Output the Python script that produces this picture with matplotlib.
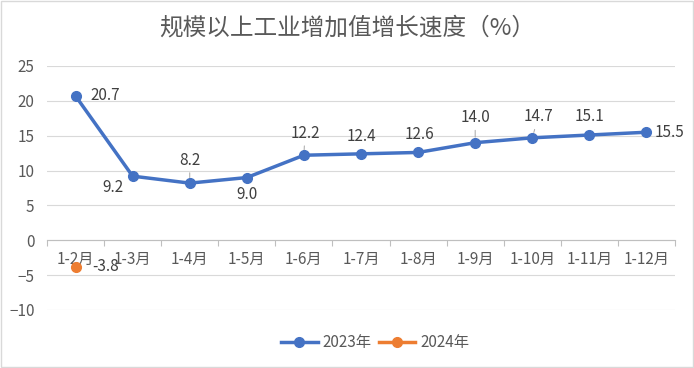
import matplotlib
matplotlib.use("Agg")
import matplotlib.pyplot as plt
from matplotlib.patches import Rectangle
from matplotlib.lines import Line2D

plt.rcParams['font.family'] = ['Noto Sans CJK SC', 'DejaVu Sans']

months = ["1-2月", "1-3月", "1-4月", "1-5月", "1-6月", "1-7月", "1-8月",
          "1-9月", "1-10月", "1-11月", "1-12月"]
values_2023 = [20.7, 9.2, 8.2, 9.0, 12.2, 12.4, 12.6, 14.0, 14.7, 15.1, 15.5]
values_2024 = [-3.8]
title = "规模以上工业增加值增长速度（%）"

# label offsets in pixels (dx, dy) and whether a leader line is drawn
label_offsets = [(30, 0), (-20, -11), (0, 23), (0, -17), (1, 22), (0, 17),
                 (1, 18), (0, 25), (6, 21), (0, 19), (23, 0)]
leaders = [False, False, True, False, True, False, False, True, True, False, False]

blue = "#4472C4"
orange = "#ED7D31"
text_gray = "#595959"
label_color = "#404040"

fig = plt.figure(figsize=(6.94, 3.68), dpi=100)
ax = fig.add_axes([47 / 694, 1 - 310 / 368, 628 / 694, 244 / 368])

x = list(range(len(months)))
ax.plot(x, values_2023, color=blue, lw=2.5, marker="o", ms=7, zorder=3,
        solid_capstyle="round")
ax.plot(x[:len(values_2024)], values_2024, color=orange, lw=2.5, marker="o",
        ms=7, ls="none", zorder=3)

for i, v in enumerate(values_2023):
    dx, dy = label_offsets[i]
    kw = {}
    if leaders[i]:
        kw["arrowprops"] = dict(arrowstyle="-", color="#A6A6A6", lw=0.7,
                                shrinkA=1, shrinkB=4)
    ax.annotate(f"{v:.1f}", (i, v), xytext=(dx, dy), textcoords="offset pixels",
                ha="center", va="center", fontsize=11, color=label_color, **kw)
for i, v in enumerate(values_2024):
    ax.annotate(f"{v:.1f}", (i, v), xytext=(30, 0), textcoords="offset pixels",
                ha="center", va="center", fontsize=11, color=label_color,
                zorder=4)

ax.set_xlim(-0.5, len(months) - 0.5)
ax.set_ylim(-10, 25)
ax.set_yticks(range(-10, 26, 5))
ax.yaxis.grid(True, color="#D9D9D9", lw=0.8)
ax.set_axisbelow(True)

for s in ["top", "right", "left"]:
    ax.spines[s].set_visible(False)
ax.spines["bottom"].set_position(("data", 0))
ax.spines["bottom"].set_color("#BFBFBF")
ax.spines["bottom"].set_zorder(2)

ax.set_xticks(x)
ax.set_xticklabels(months)
ax.set_xticks([i - 0.5 for i in range(len(months) + 1)], minor=True)
ax.tick_params(axis="x", which="major", length=0, pad=8, labelsize=11,
               labelcolor=text_gray)
ax.tick_params(axis="x", which="minor", length=4, color="#BFBFBF", width=0.8)
ax.tick_params(axis="y", length=0, pad=9, labelsize=11, labelcolor=text_gray)

fig.text(347 / 694, 1 - 28 / 368, title, ha="center", va="center", fontsize=17,
         color=text_gray)

handles = [Line2D([], [], color=blue, lw=2.5, marker="o", ms=7),
           Line2D([], [], color=orange, lw=2.5, marker="o", ms=7)]
fig.legend(handles, ["2023年", "2024年"], loc="center",
           bbox_to_anchor=(375 / 694, 1 - 343 / 368), ncol=2, frameon=False,
           fontsize=11, labelcolor=text_gray, handlelength=2.4,
           handletextpad=0.3, columnspacing=0.5)

fig.add_artist(Rectangle((0.001, 0.002), 0.997, 0.995, transform=fig.transFigure,
                         fill=False, edgecolor="#D9D9D9", lw=1))

fig.savefig("out.png", dpi=100)
